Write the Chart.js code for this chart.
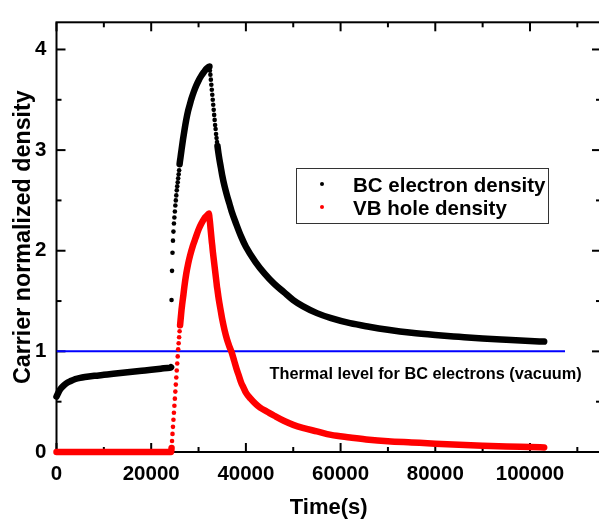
<!DOCTYPE html>
<html>
<head>
<meta charset="utf-8">
<script src="https://cdn.jsdelivr.net/npm/chart.js@4.4.1/dist/chart.umd.min.js"></script>
<style>
  html, body { margin: 0; padding: 0; background: #fff; overflow: hidden; }
  #wrap { width: 620px; height: 519px; }
</style>
</head>
<body>
<div id="wrap"><canvas id="chart" width="620" height="519"></canvas></div>
<script>
// BC electron density (black dots)
var bcTime = [
  0, 500, 1000, 1500, 2000, 3000, 4000, 5000, 6000, 8000, 10000, 12000, 14000, 16000,
  18000, 20000, 22000, 24000, 24200,
  24300, 24400, 24500, 24600, 24700, 24800, 24900, 25000, 25100, 25200, 25300, 25400,
  25500, 25600, 25700, 25800, 25900, 26000, 26200, 26400, 26700, 27000, 27400, 27800,
  28200, 28500, 29000, 29500, 30000, 30600, 31200, 31700, 32300,
  32400, 32500, 32600, 32700, 32800, 32900, 33000, 33100, 33200, 33300, 33400, 33500,
  33600, 33700, 33800, 33900, 34000, 34200, 34400, 34700, 35000, 35500, 36000, 36500,
  37000, 38000, 39000, 40000, 42000, 44000, 46000, 48000, 50000, 52000, 55000, 58000,
  62000, 66000, 70000, 75000, 80000, 85000, 90000, 95000, 100000, 103000
];
var bcDensity = [
  0.55, 0.60, 0.635, 0.66, 0.68, 0.705, 0.725, 0.737, 0.745, 0.757, 0.767, 0.777, 0.787, 0.797,
  0.807, 0.817, 0.828, 0.838, 0.842,
  1.51, 1.80, 1.98, 2.10, 2.19, 2.27, 2.33, 2.39, 2.45, 2.50, 2.55, 2.60,
  2.64, 2.68, 2.72, 2.76, 2.80, 2.86, 2.93, 3.00, 3.10, 3.19, 3.30, 3.39,
  3.46, 3.51, 3.58, 3.64, 3.69, 3.74, 3.78, 3.81, 3.83,
  3.79, 3.75, 3.70, 3.65, 3.60, 3.55, 3.50, 3.45, 3.40, 3.35, 3.30, 3.25,
  3.21, 3.16, 3.12, 3.08, 3.04, 2.97, 2.91, 2.83, 2.75, 2.64, 2.55, 2.47,
  2.39, 2.26, 2.14, 2.04, 1.89, 1.77, 1.67, 1.59, 1.51, 1.45, 1.38, 1.33,
  1.28, 1.245, 1.215, 1.185, 1.163, 1.145, 1.128, 1.115, 1.103, 1.097
];

// VB hole density (red dots)
var vbTime = [
  0, 8000, 16000, 24200,
  24300, 24400, 24500, 24600, 24700, 24800, 24900, 25000, 25100, 25200, 25300, 25400,
  25500, 25600, 25700, 25800, 25900, 26000, 26100, 26200, 26300, 26400, 26500, 26600,
  26800, 27000, 27400, 27800, 28200, 28800, 29400, 30000, 30600, 31200, 31800, 32200,
  32300, 32400, 32500, 32600, 32700, 32800, 32900, 33000, 33100, 33200, 33300, 33400,
  33500, 33600, 33700, 33800, 33900, 34000, 34200, 34400, 34700, 35000, 35500, 36000,
  36500, 37000, 37500, 38000, 38500, 39000, 39500, 40000, 41000, 42000, 43000, 44500,
  46000, 48000, 50000, 52000, 55000, 58000, 62000, 66000, 70000, 75000, 80000, 85000,
  90000, 95000, 100000, 103000
];
var vbDensity = [
  0, 0, 0, 0,
  0.04, 0.11, 0.18, 0.25, 0.32, 0.39, 0.46, 0.53, 0.60, 0.67, 0.74, 0.81,
  0.88, 0.95, 1.02, 1.08, 1.14, 1.20, 1.26, 1.31, 1.36, 1.41, 1.45, 1.49,
  1.56, 1.64, 1.77, 1.87, 1.95, 2.05, 2.13, 2.21, 2.27, 2.32, 2.35, 2.37,
  2.33, 2.29, 2.24, 2.19, 2.14, 2.09, 2.05, 2.00, 1.96, 1.92, 1.88, 1.84,
  1.80, 1.76, 1.72, 1.68, 1.64, 1.61, 1.54, 1.48, 1.40, 1.32, 1.21, 1.12,
  1.05, 0.99, 0.91, 0.83, 0.76, 0.69, 0.64, 0.59, 0.53, 0.48, 0.44, 0.40,
  0.36, 0.31, 0.27, 0.24, 0.205, 0.17, 0.145, 0.122, 0.107, 0.095, 0.083, 0.072,
  0.063, 0.055, 0.049, 0.045
];

// thermal level for BC electrons (blue line)
var thermalTime = [0, 107400];
var thermalLevel = [1, 1];

var xTicks = [0, 20000, 40000, 60000, 80000, 100000];
var yTicks = [0, 1, 2, 3, 4];

var FONT = '"Liberation Sans", Arial, sans-serif';

function toPoints(xs, ys) {
  return xs.map(function (x, i) { return { x: x, y: ys[i] }; });
}

// dense 100 s sampling on a steep part: show the dots only, no joining stroke
function dottedAbove(gap) {
  return function (ctx) {
    var dx = Math.abs(ctx.p1.x - ctx.p0.x), dy = Math.abs(ctx.p1.y - ctx.p0.y);
    return (dx < 0.7 && dy > gap) ? 'rgba(0,0,0,0)' : undefined;
  };
}

// frame with inward ticks on all four sides
var framePlugin = {
  id: 'frame',
  beforeDatasetsDraw: function (chart) {
    var a = chart.chartArea, c = chart.ctx, sx = chart.scales.x, sy = chart.scales.y;
    function seg(x1, y1, x2, y2) { c.beginPath(); c.moveTo(x1, y1); c.lineTo(x2, y2); c.stroke(); }
    c.save();
    c.strokeStyle = '#000';
    c.lineWidth = 2;
    c.strokeRect(a.left, a.top, a.right - a.left, a.bottom - a.top);
    var xs = xTicks[1] - xTicks[0], ys = yTicks[1] - yTicks[0];
    for (var v = sx.min; v <= sx.max; v += xs / 2) {
      var len = (v % xs === 0) ? 9 : 5, p = sx.getPixelForValue(v);
      seg(p, a.bottom, p, a.bottom - len);
      seg(p, a.top, p, a.top + len);
    }
    for (var w = sy.min; w <= sy.max; w += ys / 2) {
      var l2 = (w % ys === 0) ? 9 : 5, q = sy.getPixelForValue(w);
      seg(a.left, q, a.left + l2, q);
      seg(a.right, q, a.right - l2, q);
    }
    c.restore();
  }
};

// boxed legend inside the plot + the note under the blue line
var notePlugin = {
  id: 'notes',
  afterDatasetsDraw: function (chart, args, opts) {
    var c = chart.ctx, sx = chart.scales.x, sy = chart.scales.y;
    c.save();
    c.font = 'bold 16.3px ' + FONT;
    c.fillStyle = '#000';
    c.textAlign = 'left';
    c.textBaseline = 'alphabetic';
    c.fillText(opts.note, sx.getPixelForValue(opts.noteX), sy.getPixelForValue(opts.noteY));

    var b = opts.box;
    c.strokeStyle = '#333';
    c.lineWidth = 1;
    c.strokeRect(b.left + 0.5, b.top + 0.5, b.width, b.height);
    c.font = 'bold 20.5px ' + FONT;
    var row = 0;
    chart.data.datasets.forEach(function (ds) {
      if (!ds.label) return;
      var base = b.top + 23.5 + row * 23;
      c.fillStyle = ds.backgroundColor;
      c.beginPath();
      c.arc(b.left + 26, base - 7.5, 2, 0, Math.PI * 2);
      c.fill();
      c.fillStyle = '#000';
      c.fillText(ds.label, b.left + 57, base);
      row++;
    });
    c.restore();
  }
};

function seriesStyle(color, gap) {
  return {
    showLine: true,
    borderColor: color,
    backgroundColor: color,
    pointBackgroundColor: color,
    borderWidth: 6.5,
    borderCapStyle: 'round',
    borderJoinStyle: 'round',
    pointRadius: 2.3,
    pointBorderWidth: 0,
    pointHoverRadius: 2.3,
    cubicInterpolationMode: 'monotone',
    clip: false,
    segment: { borderColor: dottedAbove(gap) }
  };
}

new Chart(document.getElementById('chart'), {
  type: 'scatter',
  data: {
    datasets: [
      Object.assign({ label: 'BC electron density', data: toPoints(bcTime, bcDensity), order: 0 },
        seriesStyle('#000000', 4)),
      Object.assign({ label: 'VB hole density', data: toPoints(vbTime, vbDensity), order: 1 },
        seriesStyle('#ff0000', 5.5)),
      { label: '', data: toPoints(thermalTime, thermalLevel), showLine: true,
        borderColor: '#0000ff', backgroundColor: '#0000ff', borderWidth: 2, pointRadius: 0, order: 2 }
    ]
  },
  options: {
    responsive: false,
    animation: false,
    devicePixelRatio: 1,
    layout: { padding: { left: 0, right: 19, top: 13, bottom: 0 } },
    plugins: {
      legend: { display: false },
      tooltip: { enabled: false },
      notes: {
        note: 'Thermal level for BC electrons (vacuum)',
        noteX: 45000,
        noteY: 0.725,
        box: { left: 296, top: 168, width: 252, height: 55 }
      }
    },
    scales: {
      x: {
        type: 'linear',
        min: 0,
        max: 115000,
        afterBuildTicks: function (s) { s.ticks = xTicks.map(function (v) { return { value: v }; }); },
        afterFit: function (s) { s.height = 67; },
        grid: { display: false, drawTicks: false },
        border: { display: false },
        ticks: {
          padding: 10,
          color: '#000',
          maxRotation: 0,
          font: { family: FONT, size: 20.5, weight: 'bold' },
          callback: function (v) { return String(v); }
        },
        title: {
          display: true,
          text: 'Time(s)',
          color: '#000',
          padding: { top: 0, bottom: 0 },
          font: { family: FONT, size: 22, weight: 'bold', lineHeight: 1 }
        }
      },
      y: {
        type: 'linear',
        min: 0,
        max: 4.27,
        afterBuildTicks: function (s) { s.ticks = yTicks.map(function (v) { return { value: v }; }); },
        afterFit: function (s) { s.width = 56.5; },
        grid: { display: false, drawTicks: false },
        border: { display: false },
        ticks: {
          padding: 10,
          color: '#000',
          font: { family: FONT, size: 20.5, weight: 'bold' },
          callback: function (v) { return String(v); }
        },
        title: {
          display: true,
          text: 'Carrier normalized density',
          color: '#000',
          padding: { top: 12, bottom: 0 },
          font: { family: FONT, size: 23.3, weight: 'bold', lineHeight: 1 }
        }
      }
    }
  },
  plugins: [framePlugin, notePlugin]
});
</script>
</body>
</html>
